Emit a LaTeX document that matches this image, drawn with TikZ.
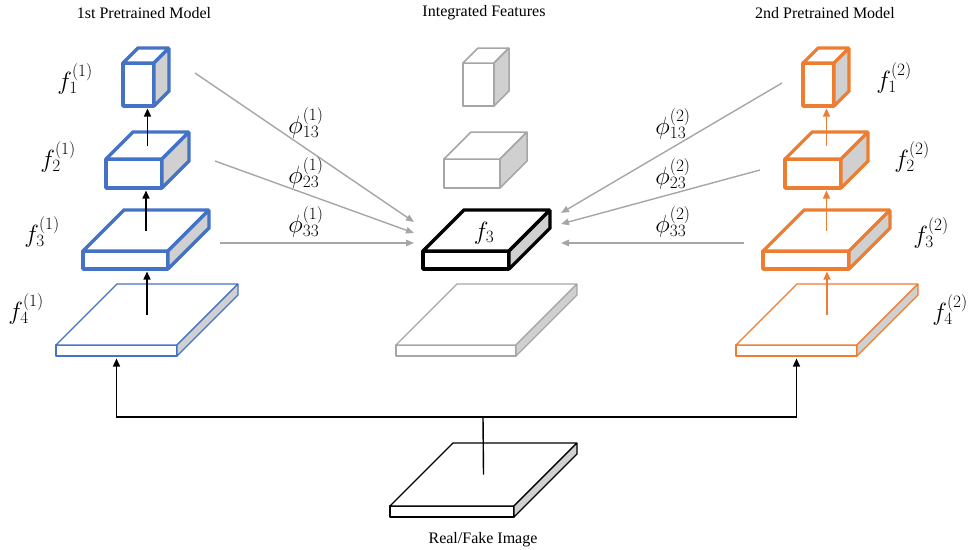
\documentclass[tikz,border=0pt]{standalone}
\usepackage{fontspec}
\setmainfont{Liberation Serif}
\usetikzlibrary{arrows.meta}
\definecolor{mblue}{HTML}{4472C4}
\definecolor{morange}{HTML}{ED7D31}
\definecolor{mgray}{HTML}{A6A6A6}
\definecolor{facegray}{HTML}{D0D0D0}
% #1 name, #2 x1, #3 y1, #4 x2, #5 y2 (front face, pixel coords), #6 depth, #7 style
\newcommand\cuboidbox[7]{%
  \draw[#7,fill=white] (#2,#3) rectangle (#4,#5);
  \draw[#7,fill=white] (#2,#3) -- ++(#6,-#6) -- (#4+#6,#3-#6) -- (#4,#3) -- cycle;
  \draw[#7,fill=facegray] (#4,#3) -- (#4+#6,#3-#6) -- (#4+#6,#5-#6) -- (#4,#5) -- cycle;
  \coordinate (#1-tc) at ({(#2+#4)/2+#6/2},{#3-#6/2});
  \coordinate (#1-fb) at ({(#2+#4)/2},#5);
}
\tikzset{
  thickbox/.style={line width=3.2pt,line join=miter,miter limit=1.3},
  thinbox/.style={line width=1.1pt,line join=miter,miter limit=1.3},
  medbox/.style={line width=1.5pt,line join=miter,miter limit=1.3},
  uparrow/.style={line width=1.4pt,-{Triangle[length=8pt,width=7pt]},shorten >=2.5pt},
  grayarrow/.style={mgray,line width=1.4pt,-{Triangle[length=8pt,width=6.5pt]}},
  title/.style={font=\fontsize{16}{18}\selectfont},
  mlabel/.style={font=\fontsize{23}{27}\selectfont},
}
\begin{document}
\begin{tikzpicture}[x=1pt,y=-1pt]
\useasboundingbox (0,0) rectangle (971,549);
% titles
\node[title] (t1) at (144,13) {1st Pretrained Model};
\node[title] (t2) at (484,13) {Integrated Features};
\node[title] (t3) at (825,13) {2nd Pretrained Model};
\node[title] (t4) at (483,540) {Real/Fake Image};

% left column (blue)
\cuboidbox{L1}{123}{63}{154}{106}{15}{mblue,thickbox}
\cuboidbox{L2}{106}{159}{162}{188}{27}{mblue,thickbox}
\cuboidbox{L3}{83}{251}{168}{269}{41}{mblue,thickbox}
\cuboidbox{L4}{56}{345}{177}{356}{61}{mblue,thinbox}
% middle column
\cuboidbox{C1}{463}{63}{494}{106}{15}{mgray,medbox}
\cuboidbox{C2}{444}{159}{500}{188}{27}{mgray,medbox}
\cuboidbox{C3}{423}{251}{509}{269}{41}{black,thickbox}
\cuboidbox{C4}{396}{345}{516}{356}{61}{mgray,thinbox}
% right column (orange)
\cuboidbox{R1}{803}{63}{834}{106}{15}{morange,thickbox}
\cuboidbox{R2}{785}{159}{841}{188}{27}{morange,thickbox}
\cuboidbox{R3}{763}{251}{849}{269}{41}{morange,thickbox}
\cuboidbox{R4}{736}{345}{857}{356}{61}{morange,thinbox}
% input image
\cuboidbox{IMG}{390}{506}{514}{517}{63}{black,thinbox}

% labels
\node[mlabel] (lf1) at (75,79) {$f_1^{(1)}$};
\node[mlabel] (lf2) at (58,157) {$f_2^{(1)}$};
\node[mlabel] (lf3) at (42,232) {$f_3^{(1)}$};
\node[mlabel] (lf4) at (26,309) {$f_4^{(1)}$};
\node[mlabel] (rf1) at (894,78) {$f_1^{(2)}$};
\node[mlabel] (rf2) at (912,157) {$f_2^{(2)}$};
\node[mlabel] (rf3) at (931,233) {$f_3^{(2)}$};
\node[mlabel] (rf4) at (950,310) {$f_4^{(2)}$};
\node[mlabel] (cf3) at (484,233) {$f_3$};

% vertical arrows left
\draw[uparrow] (L4-tc) -- (L4-tc |- L3-fb);
\draw[uparrow] (L3-tc) -- (L3-tc |- L2-fb);
\draw[uparrow] (L2-tc) -- (L2-tc |- L1-fb);
% vertical arrows right
\draw[uparrow,morange,line width=1.2pt] (R4-tc) -- (R4-tc |- R3-fb);
\draw[uparrow,morange,line width=1.2pt] (R3-tc) -- (R3-tc |- R2-fb);
\draw[uparrow,morange,line width=1.2pt] (R2-tc) -- (R2-tc |- R1-fb);

% bus from input image
\coordinate (bus) at (483,417);
\draw[line width=1.4pt] (IMG-tc) -- (bus);
\draw[uparrow] (bus) -| (L4-fb);
\draw[uparrow] (bus) -| (R4-fb);

% gray arrows into integrated feature
\coordinate (l13) at (195,73);
\coordinate (l23) at (215,161);
\coordinate (l33) at (220,243);
\coordinate (cl13) at (414,222);
\coordinate (cl23) at (414,233);
\coordinate (cl33) at (414,243);
\coordinate (r13) at (782,83);
\coordinate (r23) at (760,170);
\coordinate (r33) at (744,243);
\coordinate (cr13) at (561,213);
\coordinate (cr23) at (561,224);
\coordinate (cr33) at (561,243);
\draw[grayarrow] (l13) -- (cl13);
\draw[grayarrow] (l23) -- (cl23);
\draw[grayarrow] (l33) -- (cl33);
\draw[grayarrow] (r13) -- (cr13);
\draw[grayarrow] (r23) -- (cr23);
\draw[grayarrow] (r33) -- (cr33);

\node[mlabel] (p13a) at (306,123) {$\phi_{13}^{(1)}$};
\node[mlabel] (p23a) at (306,173) {$\phi_{23}^{(1)}$};
\node[mlabel] (p33a) at (306,222) {$\phi_{33}^{(1)}$};
\node[mlabel] (p13b) at (673,124) {$\phi_{13}^{(2)}$};
\node[mlabel] (p23b) at (673,174) {$\phi_{23}^{(2)}$};
\node[mlabel] (p33b) at (673,222) {$\phi_{33}^{(2)}$};
\end{tikzpicture}
\end{document}
